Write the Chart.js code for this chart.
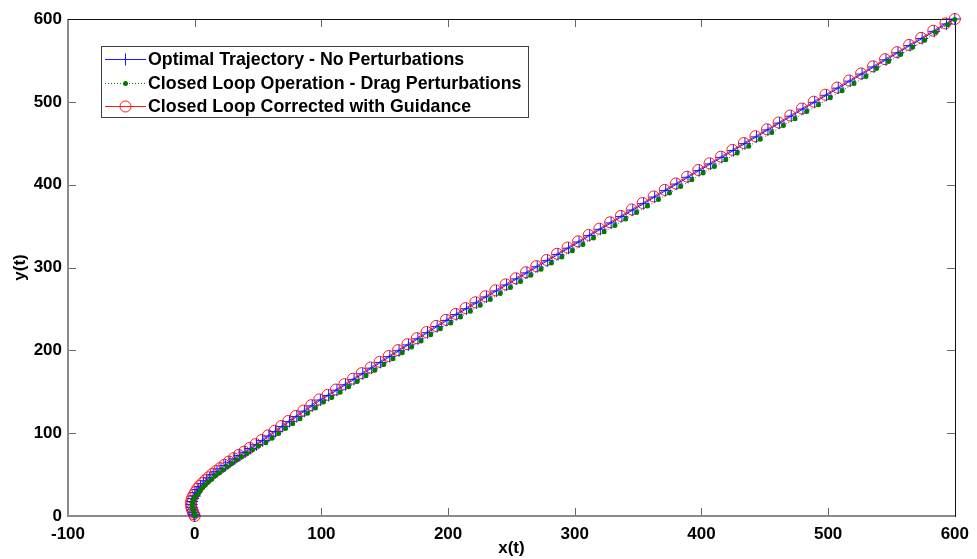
<!DOCTYPE html>
<html>
<head>
<meta charset="utf-8">
<title>x(t) / y(t)</title>
<script src="https://cdn.jsdelivr.net/npm/chart.js@4.4.1/dist/chart.umd.min.js"></script>
<style>
  html, body { margin: 0; padding: 0; background: #fff; }
  #wrap { width: 977px; height: 559px; position: relative; }
</style>
</head>
<body>
<div id="wrap"><canvas id="trajChart"></canvas></div>
<script>
// ticks
const xTicks = [-100, 0, 100, 200, 300, 400, 500, 600];
const yTicks = [0, 100, 200, 300, 400, 500, 600];

const seriesNames = [
  'Optimal Trajectory - No Perturbations',
  'Closed Loop Operation - Drag Perturbations',
  'Closed Loop Corrected with Guidance'
];

// optimal trajectory, no perturbations
const optimalX = [
  0, -0.5, -1.2, -1.8, -2.2, -2.3, -2.0, -1.2, 0,
  1.2, 2.8, 4.6, 6.8, 9.2, 11.8, 14.6, 17.6, 20.8, 24.2, 27.8, 31.6, 35.6, 39.8, 44.2, 48.8,
  53.6, 58.6, 63.8, 69.2, 74.8, 80.6, 86.6, 92.8, 99.2,
  105.7, 112.3, 119.0, 125.8, 132.7, 139.7, 146.8, 154.0, 161.3, 168.7, 176.2, 183.8, 191.4, 199.1,
  206.8, 214.6, 222.4, 230.3, 238.2, 246.2, 254.2, 262.3, 270.4, 278.6, 286.8, 295.1,
  303.4, 311.8, 320.2, 328.7, 337.2, 345.8, 354.4, 363.1, 371.8, 380.6, 389.4, 398.3,
  407.2, 416.2, 425.2, 434.3, 443.4, 452.5, 461.7, 470.9, 480.1, 489.4, 498.7,
  508.0, 517.4, 526.8, 536.2, 545.7, 555.2, 564.7, 574.2, 583.8, 593.4, 600
];
const optimalY = [
  0, 2, 4.5, 7.5, 10.5, 14, 17.5, 21, 24,
  28, 32, 35.5, 39, 42.5, 46, 50, 53.5, 57, 61, 65, 69, 73, 77, 81.5, 86,
  91, 96.5, 102, 108, 114, 120, 126.5, 133, 140,
  145.5, 151.9, 158.4, 165.0, 171.7, 178.5, 185.4, 192.4, 199.5, 206.6, 213.9, 221.3, 228.7, 236.1,
  243.2, 250.2, 257.3, 264.5, 271.7, 278.9, 286.2, 293.5, 300.9, 308.3, 315.8, 323.3,
  330.8, 338.5, 346.1, 353.8, 361.5, 369.3, 377.1, 385.0, 392.9, 400.7, 408.9, 417.0,
  425.0, 433.0, 441.2, 449.5, 457.7, 466.1, 474.3, 482.7, 491.2, 499.4, 507.9,
  516.5, 525.0, 533.5, 542.1, 550.7, 559.2, 567.9, 576.4, 585.1, 594.0, 600
];

// closed loop with drag
const dragX = [
  0.5, 0, -0.7, -1.3, -1.7, -1.8, -1.5, -0.7, 0.5,
  2.7, 4.3, 6.1, 8.3, 10.7, 13.3, 16.1, 19.1, 22.3, 25.7, 29.3, 33.1, 37.1, 41.3, 45.7, 50.3,
  56.1, 61.1, 66.3, 71.7, 77.3, 83.1, 89.1, 95.3, 101.7,
  108.2, 114.8, 121.5, 128.3, 135.2, 142.2, 149.3, 156.5, 163.8, 171.2, 178.7, 186.3, 193.9, 202.1,
  209.8, 217.6, 225.4, 233.3, 241.2, 249.2, 257.2, 265.3, 273.4, 281.6, 289.8, 298.1,
  306.4, 314.8, 323.2, 331.7, 340.2, 348.8, 357.4, 366.1, 374.8, 383.6, 392.4, 401.3,
  410.2, 419.2, 428.2, 437.3, 446.4, 455.5, 464.7, 473.9, 483.1, 492.4, 501.7,
  511.0, 520.4, 529.8, 538.2, 547.7, 557.2, 566.7, 576.2, 584.8, 594.2, 600
];
const dragY = [
  0, 1.5, 4, 7, 10, 13.5, 17, 20.5, 23.5,
  26.5, 30.5, 34, 37.5, 41, 44.5, 48.5, 52, 55.5, 59.5, 63.5, 67.5, 71.5, 75.5, 80, 84.5,
  88.5, 94, 99.5, 105.5, 111.5, 117.5, 124, 130.5, 137.5,
  143, 149.4, 155.9, 162.5, 169.2, 176, 182.9, 189.9, 197, 204.1, 211.4, 218.8, 226.2, 233.1,
  240.2, 247.2, 254.3, 261.5, 268.7, 275.9, 283.2, 290.5, 297.9, 305.3, 312.8, 320.3,
  327.8, 335.5, 343.1, 350.8, 358.5, 366.3, 374.1, 382.0, 389.9, 397.7, 405.9, 414.0,
  422.0, 430.0, 438.2, 446.5, 454.7, 463.1, 471.3, 479.7, 488.2, 496.4, 504.9,
  513.5, 522.0, 530.5, 540.1, 548.7, 557.2, 565.9, 574.4, 584.1, 593.0, 599.5
];

// closed loop corrected with guidance
const guidedX = [
  0, -0.7, -1.5, -2.2, -2.7, -2.9, -2.7, -2.0, -0.9,
  0.4, 2.0, 3.8, 6.0, 8.4, 11.0, 13.8, 16.8, 20.0, 23.4, 27.0, 30.8, 34.8, 39.0, 43.4, 48.0,
  52.8, 57.8, 63.0, 68.4, 74.0, 79.8, 85.8, 92.0, 98.4,
  104.9, 111.5, 118.2, 125.0, 131.9, 138.9, 146.0, 153.2, 160.5, 167.9, 175.4, 183.0, 190.6, 198.3,
  206.0, 213.8, 221.6, 229.5, 237.4, 245.4, 253.4, 261.5, 269.6, 277.8, 286.0, 294.3,
  302.6, 311.0, 319.4, 327.9, 336.4, 345.0, 353.6, 362.3, 371.0, 379.8, 388.6, 397.5,
  406.4, 415.4, 424.4, 433.5, 442.6, 451.7, 460.9, 470.1, 479.3, 488.6, 497.9,
  507.2, 516.6, 526.0, 535.4, 544.9, 554.4, 563.9, 573.4, 583.0, 592.6, 600
];
const guidedY = [
  0, 2.3, 5, 8, 11.3, 14.8, 18.4, 22, 25.2,
  28.8, 32.8, 36.3, 39.8, 43.3, 46.8, 50.8, 54.3, 57.8, 61.8, 65.8, 69.8, 73.8, 77.8, 82.3, 86.8,
  91.8, 97.3, 102.8, 108.8, 114.8, 120.8, 127.3, 133.8, 140.8,
  146.3, 152.7, 159.2, 165.8, 172.5, 179.3, 186.2, 193.2, 200.3, 207.4, 214.7, 222.1, 229.5, 236.9,
  244.0, 251.0, 258.1, 265.3, 272.5, 279.7, 287.0, 294.3, 301.7, 309.1, 316.6, 324.1,
  331.6, 339.3, 346.9, 354.6, 362.3, 370.1, 377.9, 385.8, 393.7, 401.5, 409.7, 417.8,
  425.8, 433.8, 442.0, 450.3, 458.5, 466.9, 475.1, 483.5, 492.0, 500.2, 508.7,
  517.3, 525.8, 534.3, 542.9, 551.5, 560.0, 568.7, 577.2, 585.9, 594.8, 600
];

// line / marker look for each series (also used by the legend)
const seriesStyles = [
  { color: '#1a1aff', dash: [], marker: 'cross', radius: 6, markerBorder: 1, fill: '#1a1aff' },
  { color: '#008000', dash: [1, 2], marker: 'circle', radius: 2.5, markerBorder: 0, fill: '#007a00' },
  { color: '#ff1a1a', dash: [], marker: 'circle', radius: 5.5, markerBorder: 1, fill: 'rgba(0,0,0,0)' }
];

function toPoints(xs, ys) {
  return xs.map((x, i) => ({ x: x, y: ys[i] }));
}

const FONT = '"Liberation Sans", Arial, Helvetica, sans-serif';
Chart.defaults.font.family = FONT;
Chart.defaults.font.size = 17;
Chart.defaults.font.weight = 'bold';
Chart.defaults.color = '#000';

// box around the plot + ticks pointing inward
const frameTicks = {
  id: 'frameTicks',
  beforeDatasetsDraw(chart) {
    const { ctx, chartArea: a, scales } = chart;
    const L = Math.round(a.left), R = Math.round(a.right);
    const T = Math.round(a.top), B = Math.round(a.bottom);
    ctx.save();
    ctx.strokeStyle = '#666';
    ctx.lineWidth = 1;
    ctx.beginPath();
    xTicks.forEach(v => {
      const px = Math.round(scales.x.getPixelForValue(v)) + 0.5;
      ctx.moveTo(px, B); ctx.lineTo(px, B - 8);
      ctx.moveTo(px, T); ctx.lineTo(px, T + 8);
    });
    yTicks.forEach(v => {
      const py = Math.round(scales.y.getPixelForValue(v)) + 0.5;
      ctx.moveTo(L, py); ctx.lineTo(L + 8, py);
      ctx.moveTo(R, py); ctx.lineTo(R - 8, py);
    });
    ctx.stroke();
    // left / bottom come out a bit grey and thicker
    ctx.fillStyle = '#8a8a8a';
    ctx.fillRect(L - 1, T, 2, B - T + 1);
    ctx.fillRect(L - 1, B - 1, R - L + 2, 2);
    ctx.fillStyle = '#111';
    ctx.fillRect(L, T, R - L + 1, 1);
    ctx.fillRect(R, T, 1, B - T + 1);
    ctx.restore();
  }
};

// legend box in the upper left corner of the plot
const boxLegend = {
  id: 'boxLegend',
  afterDraw(chart) {
    const { ctx } = chart;
    const box = { x: 101, y: 46, w: 427, h: 71 };
    ctx.save();
    ctx.fillStyle = '#fff';
    ctx.fillRect(box.x, box.y, box.w, box.h);
    ctx.strokeStyle = '#404040';
    ctx.lineWidth = 1;
    ctx.strokeRect(box.x + 0.5, box.y + 0.5, box.w, box.h);

    seriesStyles.forEach((st, i) => {
      const cy = Math.round(box.y + 13 + i * 23.5) + 0.5;
      ctx.strokeStyle = st.color;
      ctx.lineWidth = 1;
      ctx.setLineDash(st.dash);
      ctx.beginPath();
      ctx.moveTo(box.x + 4, cy);
      ctx.lineTo(box.x + 45, cy);
      ctx.stroke();
      ctx.setLineDash([]);
      ctx.fillStyle = st.fill;
      ctx.strokeStyle = st.color;
      ctx.lineWidth = st.markerBorder;
      Chart.helpers.drawPoint(ctx, {
        pointStyle: st.marker,
        radius: st.radius,
        borderWidth: st.markerBorder,
        rotation: 0
      }, box.x + 24.5, cy);

      ctx.fillStyle = '#000';
      ctx.font = 'bold 17.8px ' + FONT;
      ctx.textBaseline = 'middle';
      ctx.textAlign = 'left';
      ctx.fillText(seriesNames[i], box.x + 47, cy + 1);
    });
    ctx.restore();
  }
};

function makeDataset(i, xs, ys, order) {
  const st = seriesStyles[i];
  return {
    label: seriesNames[i],
    data: toPoints(xs, ys),
    showLine: true,
    borderColor: st.color,
    borderWidth: 1,
    borderDash: st.dash,
    pointStyle: st.marker,
    pointRadius: st.radius,
    pointBorderWidth: st.markerBorder,
    pointBorderColor: st.color,
    pointBackgroundColor: st.fill,
    order: order,
    clip: false
  };
}

window.initTrajChart = function (canvasid) {
  const ctx = document.getElementById(canvasid)?.getContext('2d');
  if (!ctx) return;

  new Chart(ctx, {
    type: 'scatter',
    data: {
      datasets: [
        makeDataset(0, optimalX, optimalY, 1),
        makeDataset(1, dragX, dragY, 0),
        makeDataset(2, guidedX, guidedY, 2)
      ]
    },
    options: {
      responsive: true,
      maintainAspectRatio: false,
      animation: false,
      layout: { padding: { top: 19, right: 17, left: 0, bottom: 0 } },
      scales: {
        x: {
          type: 'linear',
          min: -100,
          max: 600,
          afterBuildTicks: scale => { scale.ticks = xTicks.map(v => ({ value: v })); },
          afterFit: scale => { scale.height = 43; },
          grid: { display: false, drawTicks: false },
          border: { display: false },
          ticks: { padding: 8, maxRotation: 0, autoSkip: false },
          title: { display: true, text: 'x(t)', padding: { top: 0, bottom: 0 } }
        },
        y: {
          type: 'linear',
          min: 0,
          max: 600,
          afterBuildTicks: scale => { scale.ticks = yTicks.map(v => ({ value: v })); },
          afterFit: scale => { scale.width = 68; },
          grid: { display: false, drawTicks: false },
          border: { display: false },
          ticks: { padding: 6, autoSkip: false },
          title: { display: true, text: 'y(t)', padding: { top: 10, bottom: 0 } }
        }
      },
      plugins: {
        legend: { display: false },
        tooltip: { enabled: false }
      }
    },
    plugins: [frameTicks, boxLegend]
  });
};

window.initTrajChart('trajChart');
</script>
</body>
</html>
